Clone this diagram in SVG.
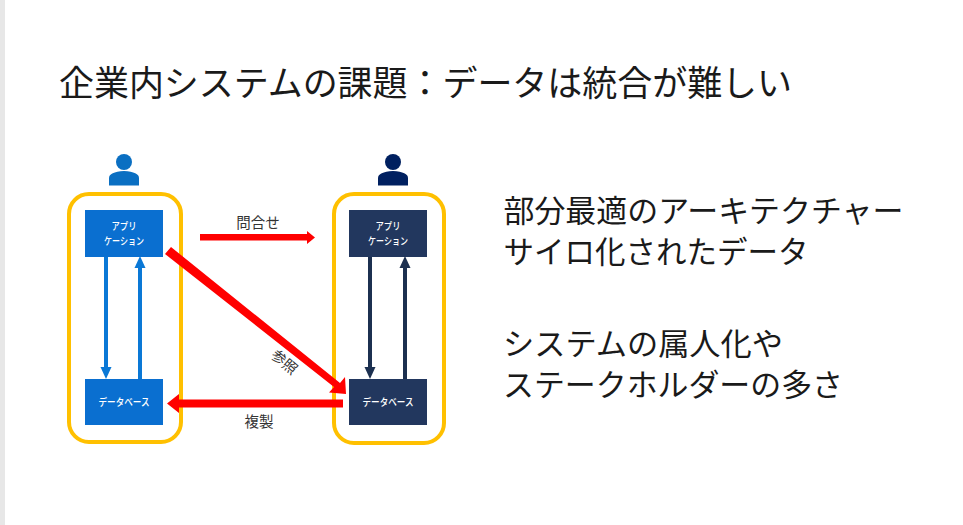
<svg xmlns="http://www.w3.org/2000/svg" width="963" height="525" viewBox="0 0 963 525">
<style>
text{font-family:"Noto Sans CJK JP","Noto Sans",sans-serif}
.h{font-size:35px;fill:#1a1a1a}
.b{font-size:31px;fill:#1a1a1a}
.n{font-size:10px;font-weight:500;fill:#fff;text-anchor:middle}
.l{font-size:14.500px;fill:#333;text-anchor:middle}
.frame{fill:none;stroke:#ffc000;stroke-width:4}
.blue{fill:#0a6fd0}
.navy{fill:#22375e}
.pb{fill:#0a6fc2}
.pn{fill:#002060}
.cb{stroke:#0a78d6;stroke-width:4;fill:none}
.cn{stroke:#1c3050;stroke-width:4;fill:none}
.rf{fill:#f00}
</style>
<rect width="963" height="525" fill="#fff"/>
<rect width="5" height="525" fill="#e7e7e7"/>
<text class="h" x="59" y="96" textLength="733" lengthAdjust="spacingAndGlyphs">企業内システムの課題：データは統合が難しい</text>
<text class="b" x="503.500" y="222" textLength="400" lengthAdjust="spacingAndGlyphs">部分最適のアーキテクチャー</text>
<text class="b" x="503.500" y="263" textLength="305" lengthAdjust="spacingAndGlyphs">サイロ化されたデータ</text>
<text class="b" x="503" y="355" textLength="280" lengthAdjust="spacingAndGlyphs">システムの属人化や</text>
<text class="b" x="503" y="396" textLength="340" lengthAdjust="spacingAndGlyphs">ステークホルダーの多さ</text>
<g id="user-left"><circle class="pb" cx="124" cy="162" r="8"/><path class="pb" d="M109 185.500V178Q109 172 124 171Q139 172 139 178V185.500z"/></g>
<g id="user-right"><circle class="pn" cx="393" cy="162" r="8"/><path class="pn" d="M378 185.500V178Q378 172 393 171Q408 172 408 178V185.500z"/></g>
<g id="system-left"><rect class="frame" x="69" y="194" width="112" height="248" rx="20"/></g>
<g id="system-right"><rect class="frame" x="334" y="194" width="110" height="249" rx="20"/></g>
<g id="app-left"><rect class="blue" x="85" y="210" width="78" height="47"/><text class="n" x="124" y="230" textLength="25" lengthAdjust="spacingAndGlyphs">アプリ</text><text class="n" x="124" y="245" textLength="40" lengthAdjust="spacingAndGlyphs">ケーション</text></g>
<g id="db-left"><rect class="blue" x="85" y="379" width="78" height="46"/><text class="n" x="124" y="406" textLength="51" lengthAdjust="spacingAndGlyphs">データベース</text></g>
<g id="app-right"><rect class="navy" x="349" y="210" width="78" height="47"/><text class="n" x="388" y="230" textLength="25" lengthAdjust="spacingAndGlyphs">アプリ</text><text class="n" x="388" y="245" textLength="40" lengthAdjust="spacingAndGlyphs">ケーション</text></g>
<g id="db-right"><rect class="navy" x="349" y="379" width="78" height="46"/><text class="n" x="388" y="406" textLength="51" lengthAdjust="spacingAndGlyphs">データベース</text></g>
<g id="connectors">
<path class="cb" d="M106 257V368"/><path fill="#0a78d6" d="M100.500 367H111.500L106 379z"/>
<path class="cb" d="M140 379V267"/><path fill="#0a78d6" d="M134.500 268H145.500L140 256z"/>
<path class="cn" d="M370 257V368"/><path fill="#1c3050" d="M364.500 367H375.500L370 379z"/>
<path class="cn" d="M405 379V267"/><path fill="#1c3050" d="M399.500 268H410.500L405 256z"/>
<path class="rf" d="M200 234H307V231L315 237.500L307 244V240.500H200z"/>
<path class="rf" d="M171 247L340 383L345 377L346 394L329 392.500L334 387L165 254z"/>
<path class="rf" d="M343 399.500V407.500H179V413L167 403.500L179 394V399.500z"/>
</g>
<text class="l" x="258" y="228">問合せ</text>
<text class="l" x="0" y="0" transform="translate(281 366) rotate(40)">参照</text>
<text class="l" x="259" y="427">複製</text>
</svg>
